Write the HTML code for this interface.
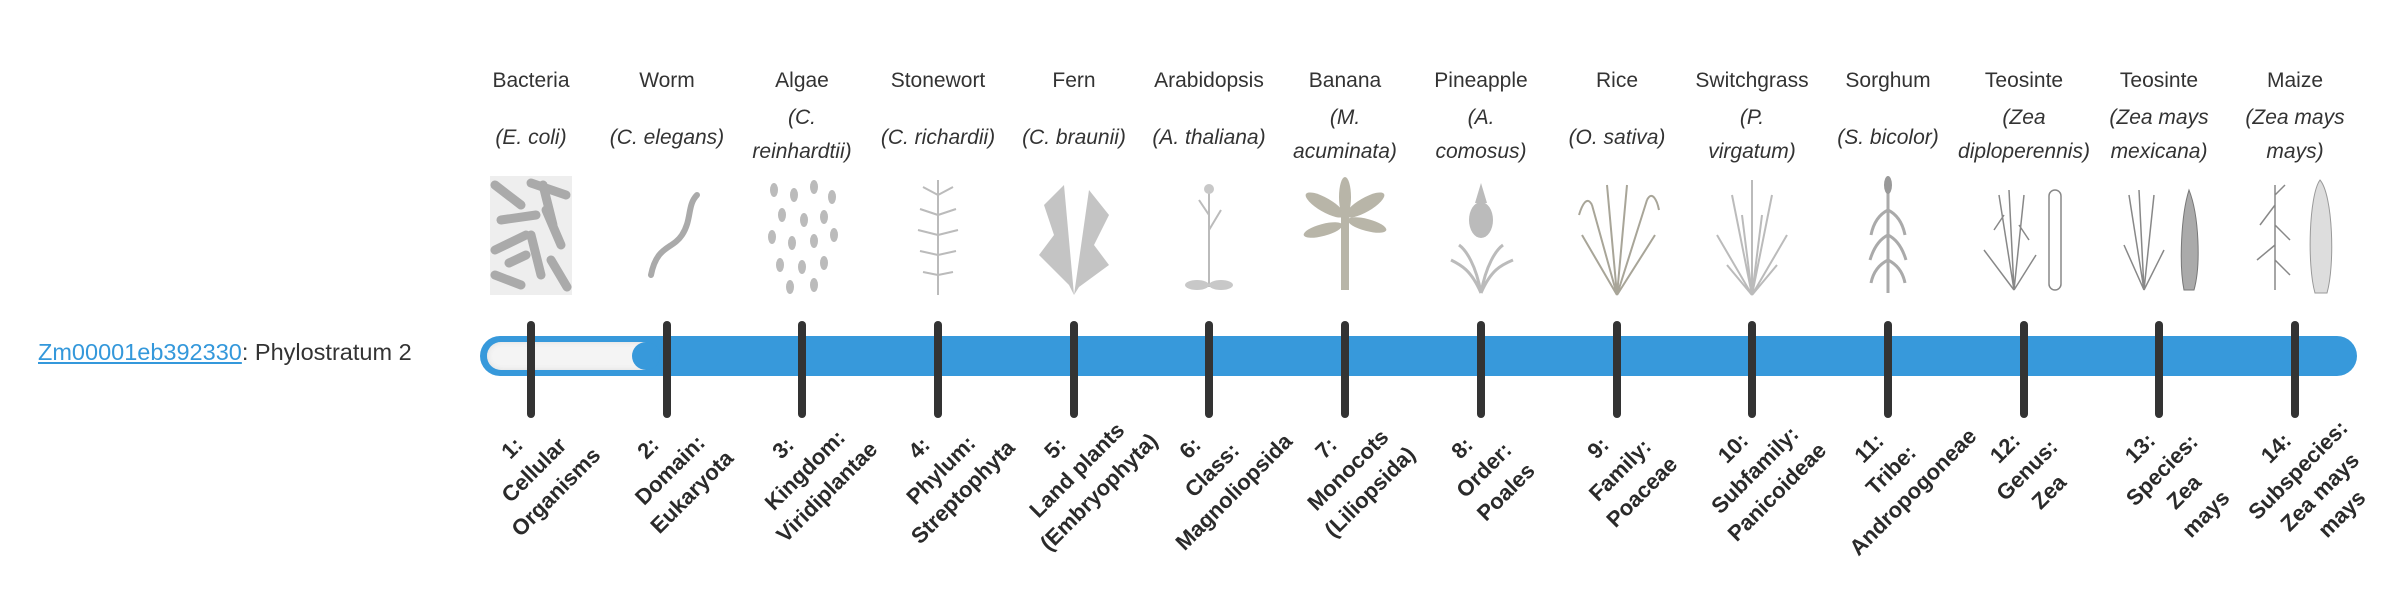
<!DOCTYPE html>
<html><head><meta charset="utf-8"><style>
body{margin:0;width:2400px;height:580px;background:#fff;position:relative;overflow:hidden;font-family:"Liberation Sans",sans-serif;color:#333}
.c{position:absolute;width:136px;text-align:center;font-size:21px}
.n{position:absolute;top:69px;left:-10px;width:156px;white-space:nowrap}
.s{position:absolute;left:-10px;width:156px;font-style:italic;line-height:34px;white-space:nowrap}
.s1{top:121px}.s2{top:101px}
.im{position:absolute;top:175px;left:18px;width:100px;height:122px}
.t{position:absolute;top:321px;width:8px;height:97px;background:#333;border-radius:4px}
.b{position:absolute;top:437px;width:200px;text-align:center;font-weight:bold;font-size:22px;line-height:31px;transform-origin:100px 0;transform:rotate(-45deg);white-space:nowrap;color:#2a2a2a}
</style></head><body>
<div style="position:absolute;left:38px;top:339px;font-size:23.5px;white-space:nowrap"><span style="color:#3498db;text-decoration:underline">Zm00001eb392330</span>: Phylostratum 2</div>

<div style="position:absolute;left:480px;top:336px;width:1877px;height:40px;border-radius:20px;background:#3799db"></div>
<div style="position:absolute;left:487px;top:342px;width:159px;height:28px;border-radius:14px 0 0 14px;background:#f4f4f4;box-shadow:inset 0 0 6px #ddd"></div>
<div style="position:absolute;left:632px;top:342px;width:28px;height:28px;border-radius:14px;background:#3799db"></div>

<!-- columns -->
<div class="c" style="left:463px"><div class="n">Bacteria</div><div class="s s1">(E. coli)</div>
<svg class="im" viewBox="0 0 100 122"><rect x="9" y="1" width="82" height="119" fill="#eee"/><g stroke="#aaa" stroke-width="9" stroke-linecap="round"><line x1="14" y1="10" x2="40" y2="30"/><line x1="50" y1="8" x2="85" y2="20"/><line x1="20" y1="45" x2="55" y2="40"/><line x1="65" y1="35" x2="80" y2="70"/><line x1="14" y1="75" x2="45" y2="60"/><line x1="50" y1="60" x2="60" y2="100"/><line x1="14" y1="100" x2="40" y2="110"/><line x1="70" y1="85" x2="86" y2="112"/><line x1="28" y1="88" x2="45" y2="80"/><line x1="62" y1="10" x2="72" y2="50"/></g></svg>
</div>
<div class="c" style="left:599px"><div class="n">Worm</div><div class="s s1">(C. elegans)</div>
<svg class="im" viewBox="0 0 100 122"><path d="M34 100 C40 70,55 75,65 60 C75 45,70 30,80 20" fill="none" stroke="#aaa" stroke-width="6" stroke-linecap="round"/></svg>
</div>
<div class="c" style="left:734px"><div class="n">Algae</div><div class="s s2">(C.<br>reinhardtii)</div>
<svg class="im" viewBox="0 0 100 122"><g fill="#bbb"><ellipse cx="22" cy="15" rx="4" ry="7"/><ellipse cx="42" cy="20" rx="4" ry="7"/><ellipse cx="62" cy="12" rx="4" ry="7"/><ellipse cx="80" cy="22" rx="4" ry="7"/><ellipse cx="30" cy="40" rx="4" ry="7"/><ellipse cx="52" cy="45" rx="4" ry="7"/><ellipse cx="72" cy="42" rx="4" ry="7"/><ellipse cx="20" cy="62" rx="4" ry="7"/><ellipse cx="40" cy="68" rx="4" ry="7"/><ellipse cx="62" cy="66" rx="4" ry="7"/><ellipse cx="82" cy="60" rx="4" ry="7"/><ellipse cx="28" cy="90" rx="4" ry="7"/><ellipse cx="50" cy="92" rx="4" ry="7"/><ellipse cx="72" cy="88" rx="4" ry="7"/><ellipse cx="38" cy="112" rx="4" ry="7"/><ellipse cx="62" cy="110" rx="4" ry="7"/></g></svg>
</div>
<div class="c" style="left:870px"><div class="n">Stonewort</div><div class="s s1">(C. richardii)</div>
<svg class="im" viewBox="0 0 100 122"><g stroke="#bbb" stroke-width="2" fill="none"><line x1="50" y1="5" x2="50" y2="120"/><path d="M50 20 l-15 -8 M50 20 l15 -8 M50 40 l-18 -6 M50 40 l18 -6 M50 60 l-20 -5 M50 60 l20 -5 M50 80 l-18 -4 M50 80 l18 -4 M50 100 l-15 -3 M50 100 l15 -3"/></g></svg>
</div>
<div class="c" style="left:1006px"><div class="n">Fern</div><div class="s s1">(C. braunii)</div>
<svg class="im" viewBox="0 0 100 122"><g fill="#c4c4c4"><path d="M50 120 L40 10 L20 30 L30 60 L15 80 L45 110Z"/><path d="M50 120 L65 15 L85 40 L70 70 L85 90 L55 112Z"/></g></svg>
</div>
<div class="c" style="left:1141px"><div class="n">Arabidopsis</div><div class="s s1">(A. thaliana)</div>
<svg class="im" viewBox="0 0 100 122"><g stroke="#bbb" stroke-width="2" fill="none"><line x1="50" y1="15" x2="50" y2="112"/><path d="M50 40 l-10 -15 M50 55 l12 -20"/></g><g fill="#c8c8c8"><circle cx="50" cy="14" r="5"/><ellipse cx="38" cy="110" rx="12" ry="5"/><ellipse cx="62" cy="110" rx="12" ry="5"/></g></svg>
</div>
<div class="c" style="left:1277px"><div class="n">Banana</div><div class="s s2">(M.<br>acuminata)</div>
<svg class="im" viewBox="0 0 100 122"><g fill="#b8b5a8"><ellipse cx="30" cy="30" rx="22" ry="7" transform="rotate(30 30 30)"/><ellipse cx="70" cy="30" rx="22" ry="7" transform="rotate(-30 70 30)"/><ellipse cx="50" cy="22" rx="6" ry="20"/><ellipse cx="28" cy="55" rx="20" ry="6" transform="rotate(-15 28 55)"/><ellipse cx="72" cy="50" rx="20" ry="6" transform="rotate(15 72 50)"/><rect x="46" y="40" width="8" height="75"/></g></svg>
</div>
<div class="c" style="left:1413px"><div class="n">Pineapple</div><div class="s s2">(A.<br>comosus)</div>
<svg class="im" viewBox="0 0 100 122"><g fill="#bbb"><ellipse cx="50" cy="45" rx="12" ry="18"/><path d="M44 28 L50 8 L56 28Z"/></g><g stroke="#bbb" stroke-width="3" fill="none"><path d="M50 118 C40 95,30 90,20 85 M50 118 C60 95,70 90,82 85 M50 118 C45 90,35 75,28 70 M50 118 C55 90,65 75,72 70"/></g></svg>
</div>
<div class="c" style="left:1549px"><div class="n">Rice</div><div class="s s1">(O. sativa)</div>
<svg class="im" viewBox="0 0 100 122"><g stroke="#a8a598" stroke-width="2" fill="none"><path d="M50 120 L25 30 M50 120 L40 10 M50 120 L60 10 M50 120 L80 25 M50 120 L15 60 M50 120 L88 60 M25 30 C20 20,15 30,12 40 M80 25 C85 15,90 25,92 35"/></g></svg>
</div>
<div class="c" style="left:1684px"><div class="n">Switchgrass</div><div class="s s2">(P.<br>virgatum)</div>
<svg class="im" viewBox="0 0 100 122"><g stroke="#bbb" stroke-width="2" fill="none"><path d="M50 120 L50 5 M50 120 L30 20 M50 120 L70 20 M50 120 L15 60 M50 120 L85 60 M50 120 L25 90 M50 120 L75 90 M50 120 L40 40 M50 120 L60 40"/></g></svg>
</div>
<div class="c" style="left:1820px"><div class="n">Sorghum</div><div class="s s1">(S. bicolor)</div>
<svg class="im" viewBox="0 0 100 122"><g stroke="#aaa" stroke-width="3" fill="none"><line x1="50" y1="10" x2="50" y2="118"/><path d="M50 35 C40 40,35 50,33 60 M50 35 C60 40,65 50,67 60 M50 60 C40 65,35 75,32 85 M50 60 C60 65,65 75,68 85 M50 85 C40 90,35 98,33 108 M50 85 C60 90,65 98,67 108"/></g><ellipse cx="50" cy="10" rx="4" ry="9" fill="#999"/></svg>
</div>
<div class="c" style="left:1956px"><div class="n">Teosinte</div><div class="s s2">(Zea<br>diploperennis)</div>
<svg class="im" viewBox="0 0 100 122"><g stroke="#888" stroke-width="1.5" fill="none"><path d="M40 115 L35 15 M40 115 L25 20 M40 115 L50 20 M40 115 L10 75 M40 115 L62 80 M30 40 l-10 15 M45 50 l10 15"/><rect x="75" y="15" width="12" height="100" rx="6"/></g></svg>
</div>
<div class="c" style="left:2091px"><div class="n">Teosinte</div><div class="s s2">(Zea mays<br>mexicana)</div>
<svg class="im" viewBox="0 0 100 122"><g stroke="#888" stroke-width="1.5" fill="none"><path d="M35 115 L30 15 M35 115 L20 20 M35 115 L45 20 M35 115 L15 70 M35 115 L55 75"/></g><path d="M80 15 C90 40,92 90,85 115 L75 115 C70 90,72 40,80 15Z" fill="#aaa" stroke="#777"/></svg>
</div>
<div class="c" style="left:2227px"><div class="n">Maize</div><div class="s s2">(Zea mays<br>mays)</div>
<svg class="im" viewBox="0 0 100 122"><g stroke="#888" stroke-width="1.5" fill="none"><path d="M30 115 L30 10 M30 30 l-15 20 M30 50 l15 15 M30 70 l-18 15 M30 85 l15 15 M30 20 l10 -10"/></g><path d="M75 5 C88 20,90 90,82 118 L70 118 C62 90,64 20,75 5Z" fill="#ddd" stroke="#999"/></svg>
</div>

<!-- ticks -->
<div class="t" style="left:527px"></div><div class="t" style="left:663px"></div><div class="t" style="left:798px"></div><div class="t" style="left:934px"></div><div class="t" style="left:1070px"></div><div class="t" style="left:1205px"></div><div class="t" style="left:1341px"></div><div class="t" style="left:1477px"></div><div class="t" style="left:1613px"></div><div class="t" style="left:1748px"></div><div class="t" style="left:1884px"></div><div class="t" style="left:2020px"></div><div class="t" style="left:2155px"></div><div class="t" style="left:2291px"></div>

<!-- bottom labels -->
<div class="b" style="left:401px">1:<br>Cellular<br>Organisms</div>
<div class="b" style="left:537px">2:<br>Domain:<br>Eukaryota</div>
<div class="b" style="left:672px">3:<br>Kingdom:<br>Viridiplantae</div>
<div class="b" style="left:808px">4:<br>Phylum:<br>Streptophyta</div>
<div class="b" style="left:944px">5:<br>Land plants<br>(Embryophyta)</div>
<div class="b" style="left:1079px">6:<br>Class:<br>Magnoliopsida</div>
<div class="b" style="left:1215px">7:<br>Monocots<br>(Liliopsida)</div>
<div class="b" style="left:1351px">8:<br>Order:<br>Poales</div>
<div class="b" style="left:1487px">9:<br>Family:<br>Poaceae</div>
<div class="b" style="left:1622px">10:<br>Subfamily:<br>Panicoideae</div>
<div class="b" style="left:1758px">11:<br>Tribe:<br>Andropogoneae</div>
<div class="b" style="left:1894px">12:<br>Genus:<br>Zea</div>
<div class="b" style="left:2029px">13:<br>Species:<br>Zea<br>mays</div>
<div class="b" style="left:2165px">14:<br>Subspecies:<br>Zea mays<br>mays</div>
</body></html>
